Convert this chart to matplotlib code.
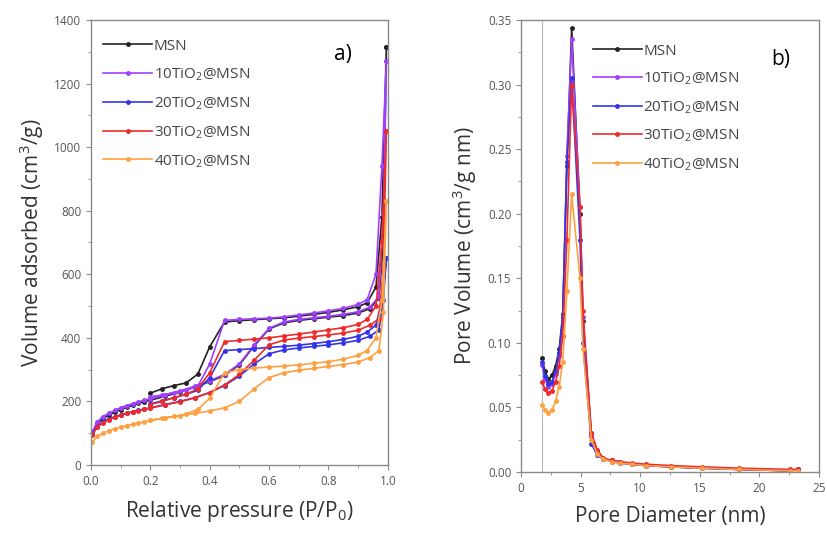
import matplotlib
matplotlib.use("Agg")
import matplotlib.pyplot as plt
from matplotlib.ticker import MultipleLocator

plt.rcParams['font.family'] = ['Open Sans', 'DejaVu Sans']
plt.rcParams['mathtext.fontset'] = 'custom'
plt.rcParams['mathtext.rm'] = 'Open Sans'

labels = ["MSN", "10TiO$_2$@MSN", "20TiO$_2$@MSN", "30TiO$_2$@MSN", "40TiO$_2$@MSN"]
colors = ["#222222", "#a040ff", "#3434e6", "#ee2a2a", "#ffa040"]

# a) N2 isotherms, adsorption branch then desorption branch
ads_p = [0.005, 0.02, 0.04, 0.06, 0.08, 0.10, 0.12, 0.14, 0.16, 0.18, 0.20, 0.25, 0.30, 0.35,
         0.40, 0.45, 0.50, 0.55, 0.60, 0.65, 0.70, 0.75, 0.80, 0.85, 0.90, 0.94, 0.97, 0.985, 0.995]
des_p = [0.995, 0.98, 0.96, 0.93, 0.90, 0.85, 0.80, 0.75, 0.70, 0.65, 0.60, 0.55, 0.50, 0.45,
         0.40, 0.36, 0.32, 0.28, 0.24, 0.20]

msn_ads = [100, 128, 145, 157, 166, 174, 181, 188, 194, 199, 204, 216, 230, 246,
           262, 282, 315, 375, 428, 447, 455, 460, 465, 470, 478, 492, 525, 700, 1315]
msn_des = [1315, 780, 560, 510, 498, 488, 480, 474, 468, 463, 460, 457, 454, 450,
           372, 286, 258, 250, 240, 226]
t10_ads = [105, 135, 152, 163, 172, 180, 187, 193, 199, 204, 208, 220, 233, 248,
           265, 285, 318, 378, 430, 450, 458, 463, 468, 474, 482, 497, 530, 790, 1270]
t10_des = [1270, 940, 600, 520, 505, 493, 485, 478, 472, 466, 462, 460, 458, 455,
           318, 248, 235, 228, 220, 215]
t20_ads = [100, 120, 135, 145, 152, 158, 163, 168, 172, 176, 180, 190, 200, 212,
           228, 250, 280, 318, 350, 362, 368, 373, 378, 384, 392, 405, 425, 520, 650]
t20_des = [650, 520, 440, 418, 405, 395, 388, 382, 377, 373, 370, 366, 363, 360,
           275, 235, 222, 212, 202, 192]
t30_ads = [95, 118, 133, 143, 150, 156, 162, 167, 171, 175, 179, 189, 199, 211,
           228, 252, 285, 330, 378, 393, 399, 404, 409, 415, 424, 440, 460, 620, 1050]
t30_des = [1050, 700, 500, 458, 442, 432, 425, 418, 412, 406, 400, 396, 392, 388,
           290, 240, 222, 212, 200, 190]
t40_ads = [72, 90, 100, 108, 114, 119, 124, 128, 132, 136, 140, 148, 155, 162,
           170, 180, 200, 240, 275, 290, 298, 304, 310, 316, 324, 338, 360, 480, 830]
t40_des = [830, 520, 400, 360, 345, 333, 325, 320, 315, 311, 308, 305, 300, 290,
           210, 175, 160, 153, 147, 140]

# b) pore size distribution
diam = [1.8, 2.0, 2.3, 2.6, 2.9, 3.2, 3.5, 3.85, 4.25, 4.95, 5.2, 5.9, 6.4, 6.9,
        7.6, 8.3, 9.3, 10.5, 12.6, 15.2, 18.3, 22.6, 23.2]
msn_pv = [0.088, 0.078, 0.072, 0.075, 0.082, 0.095, 0.122, 0.237, 0.344, 0.200, 0.117, 0.030,
          0.016, 0.010, 0.009, 0.008, 0.006, 0.005, 0.004, 0.003, 0.002, 0.001, 0.002]
t10_pv = [0.083, 0.072, 0.066, 0.068, 0.076, 0.090, 0.118, 0.245, 0.335, 0.205, 0.120, 0.028,
          0.015, 0.010, 0.009, 0.007, 0.006, 0.005, 0.004, 0.003, 0.002, 0.001, 0.002]
t20_pv = [0.085, 0.074, 0.068, 0.070, 0.078, 0.092, 0.120, 0.240, 0.305, 0.180, 0.100, 0.022,
          0.013, 0.010, 0.008, 0.007, 0.006, 0.005, 0.004, 0.003, 0.002, 0.001, 0.002]
t30_pv = [0.070, 0.064, 0.061, 0.063, 0.070, 0.082, 0.105, 0.180, 0.300, 0.205, 0.125, 0.030,
          0.017, 0.011, 0.009, 0.008, 0.007, 0.006, 0.005, 0.004, 0.003, 0.002, 0.002]
t40_pv = [0.052, 0.048, 0.046, 0.048, 0.055, 0.066, 0.085, 0.140, 0.215, 0.150, 0.095, 0.025,
          0.014, 0.010, 0.008, 0.007, 0.006, 0.005, 0.004, 0.003, 0.002, 0.001, 0.001]

iso = [(msn_ads, msn_des), (t10_ads, t10_des), (t20_ads, t20_des),
       (t30_ads, t30_des), (t40_ads, t40_des)]
psd = [msn_pv, t10_pv, t20_pv, t30_pv, t40_pv]

fig = plt.figure(figsize=(8.27, 5.33), dpi=100)
ax1 = fig.add_axes([0.110, 0.1276, 0.359, 0.835])
ax2 = fig.add_axes([0.630, 0.1144, 0.3603, 0.848])


def style(ax):
    for s in ax.spines.values():
        s.set_color("#8a8a8a")
        s.set_linewidth(1.0)
    ax.tick_params(which='both', direction='out', colors="#8a8a8a", labelcolor="#555555",
                   labelsize=8.5)
    ax.tick_params(which='major', length=3.5)
    ax.tick_params(which='minor', length=2)


for (a, d), lab, c in zip(iso, labels, colors):
    ax1.plot(ads_p + des_p, a + d, color=c, lw=1.2, marker='o', ms=2.5, label=lab)
ax1.set_xlim(0, 1.0)
ax1.set_ylim(0, 1400)
ax1.xaxis.set_major_locator(MultipleLocator(0.2))
ax1.xaxis.set_minor_locator(MultipleLocator(0.1))
ax1.yaxis.set_major_locator(MultipleLocator(200))
ax1.yaxis.set_minor_locator(MultipleLocator(100))
ax1.xaxis.set_major_formatter(plt.FuncFormatter(lambda v, _: f"{v:.1f}"))
style(ax1)
ax1.set_xlabel("Relative pressure (P/P$_0$)", fontsize=15, color="#333333", labelpad=8)
ax1.set_ylabel("Volume adsorbed (cm$^3$/g)", fontsize=15, color="#333333", labelpad=6)
ax1.legend(loc='upper left', bbox_to_anchor=(0.0, 0.985), frameon=False, fontsize=11,
           labelspacing=0.8, handlelength=3.2, handletextpad=0.1, borderaxespad=0.4,
           labelcolor="#444444")
ax1.text(0.82, 0.91, "a)", transform=ax1.transAxes, fontsize=15)

ax2.axvline(1.75, color="#bbbbbb", lw=0.8)
for pv, lab, c in zip(psd, labels, colors):
    ax2.plot(diam, pv, color=c, lw=1.2, marker='o', ms=2.5, label=lab)
ax2.set_xlim(0, 25)
ax2.set_ylim(0, 0.35)
ax2.xaxis.set_major_locator(MultipleLocator(5))
ax2.xaxis.set_minor_locator(MultipleLocator(2.5))
ax2.yaxis.set_major_locator(MultipleLocator(0.05))
ax2.yaxis.set_minor_locator(MultipleLocator(0.025))
ax2.yaxis.set_major_formatter(plt.FuncFormatter(lambda v, _: f"{v:.2f}"))
style(ax2)
ax2.set_xlabel("Pore Diameter (nm)", fontsize=15, color="#333333", labelpad=8)
ax2.set_ylabel("Pore Volume (cm$^3$/g nm)", fontsize=15, color="#333333", labelpad=6)
ax2.legend(loc='upper left', bbox_to_anchor=(0.2, 0.975), frameon=False, fontsize=11,
           labelspacing=0.78, handlelength=3.2, handletextpad=0.1, borderaxespad=0.4,
           labelcolor="#444444")
ax2.text(0.84, 0.9, "b)", transform=ax2.transAxes, fontsize=15)

fig.savefig("out.png", dpi=100)
